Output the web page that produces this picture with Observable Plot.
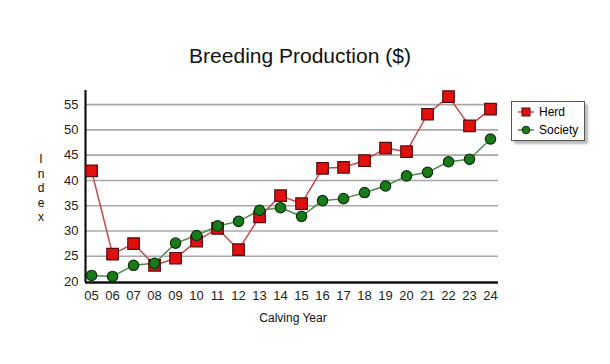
<!DOCTYPE html>
<html><head><meta charset="utf-8">
<script src="https://cdn.jsdelivr.net/npm/d3@7"></script>
<script src="https://cdn.jsdelivr.net/npm/@observablehq/plot@0.6"></script>
<style>
body{margin:0;background:#fff;font-family:"Liberation Sans",Arial,sans-serif;}
#wrap{position:relative;width:610px;height:364px;}
#title{position:absolute;left:0;width:600px;top:44px;text-align:center;font-size:21px;color:#111;}
#ylab{position:absolute;left:35px;top:152px;width:12px;text-align:center;font-size:12px;line-height:14.5px;color:#111;}
#xlab{position:absolute;left:193px;width:200px;top:311px;text-align:center;font-size:12px;color:#111;}
#legend{position:absolute;left:511px;top:101px;width:72px;height:38px;border:1px solid #555;background:#fff;box-shadow:3px 3px 2px #bbb;font-size:12px;}
#legend div{display:flex;align-items:center;height:16px;margin-left:5px;margin-top:2px;}
</style></head>
<body><div id="wrap"><div id="title">Breeding Production ($)</div><div id="ylab">I<br>n<br>d<br>e<br>x</div><div id="xlab">Calving Year</div></div>
<script>
const years = [5,6,7,8,9,10,11,12,13,14,15,16,17,18,19,20,21,22,23,24];
const herd = [41.9,25.4,27.5,23.2,24.6,28.0,30.5,26.3,32.8,37.0,35.4,42.4,42.6,43.9,46.4,45.7,53.1,56.6,50.8,54.1];
const society = [21.2,21.0,23.2,23.6,27.6,29.1,31.0,31.9,34.1,34.6,32.9,36.0,36.4,37.6,38.9,40.9,41.6,43.7,44.2,48.2];
const yTicks = [20,25,30,35,40,45,50,55];
const seriesNames = ["Herd","Society"];

const herdData = years.map((y,i)=>({year:y, v:herd[i]}));
const socData = years.map((y,i)=>({year:y, v:society[i]}));

const plot = Plot.plot({
  width:610, height:364,
  marginLeft:85, marginRight:112, marginTop:90, marginBottom:82,
  style:{fontFamily:'"Liberation Sans",Arial,sans-serif', fontSize:"13px", color:"#222", background:"transparent"},
  x:{domain:[4.71,24.38], ticks:years, tickFormat:d=>d3.format("02d")(d), tickSize:0, tickPadding:8, label:null},
  y:{domain:[19.8,57.8], ticks:yTicks, tickSize:0, tickPadding:7, label:null},
  marks:[
    Plot.gridY(yTicks.filter(t=>t>20), {stroke:"#a8a8a8", strokeWidth:1.6, strokeOpacity:1}),
    Plot.ruleX([4.71], {stroke:"#111", strokeWidth:2.2}),
    Plot.ruleY([19.8], {stroke:"#111", strokeWidth:2.5}),
    Plot.line(herdData, {x:"year", y:"v", stroke:"#c44a4a", strokeWidth:1.5}),
    Plot.line(socData, {x:"year", y:"v", stroke:"#4e8a4e", strokeWidth:1.5}),
    Plot.dot(herdData, {x:"year", y:"v", symbol:"square", r:6.5, fill:"#e01010", stroke:"#5a0a0a", strokeWidth:1.2}),
    Plot.dot(socData, {x:"year", y:"v", symbol:"circle", r:5.2, fill:"#1a7a1a", stroke:"#0a300a", strokeWidth:1.2})
  ]
});
const wrap = document.getElementById("wrap");
plot.style.position="absolute"; plot.style.left="0"; plot.style.top="0";
wrap.insertBefore(plot, wrap.firstChild);

const leg = document.createElement("div"); leg.id="legend";
const cols = [{l:"#c44a4a",f:"#e01010",s:"#5a0a0a",sq:true},{l:"#4e8a4e",f:"#1a7a1a",s:"#0a300a",sq:false}];
seriesNames.forEach((n,i)=>{
  const c=cols[i];
  const row=document.createElement("div");
  const sh = c.sq ? `<rect x="5" y="3" width="8" height="8" fill="${c.f}" stroke="${c.s}"/>` : `<circle cx="9" cy="7" r="3.8" fill="${c.f}" stroke="${c.s}"/>`;
  row.innerHTML=`<svg width="19" height="14"><line x1="1" x2="17" y1="7" y2="7" stroke="${c.l}" stroke-width="1.5"/>${sh}</svg><span style="margin-left:3px">${n}</span>`;
  leg.appendChild(row);
});
wrap.appendChild(leg);
</script></body></html>
